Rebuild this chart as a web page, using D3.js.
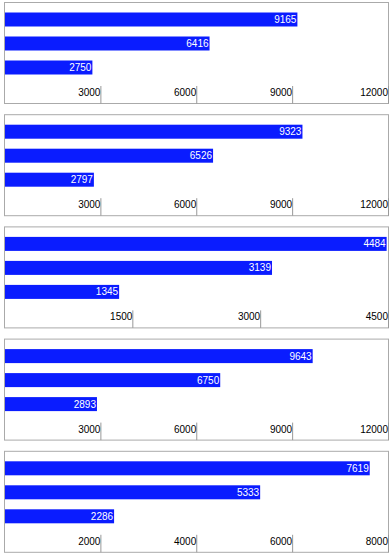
<!DOCTYPE html>
<html>
<head>
<meta charset="utf-8">
<script src="https://cdn.jsdelivr.net/npm/d3@7"></script>
<style>
  html, body { margin: 0; padding: 0; background: #fff; }
  svg { display: block; font-family: "Liberation Sans", Arial, Helvetica, sans-serif; }
</style>
</head>
<body>
<svg id="chart" width="392" height="557"></svg>
<script>
// Data: five small panels, three bars each
const categories = ["A", "B", "C"];
const panel1Values = [9165, 6416, 2750];
const panel2Values = [9323, 6526, 2797];
const panel3Values = [4484, 3139, 1345];
const panel4Values = [9643, 6750, 2893];
const panel5Values = [7619, 5333, 2286];

const panel1Ticks = [3000, 6000, 9000, 12000];
const panel2Ticks = [3000, 6000, 9000, 12000];
const panel3Ticks = [1500, 3000, 4500];
const panel4Ticks = [3000, 6000, 9000, 12000];
const panel5Ticks = [2000, 4000, 6000, 8000];

const panels = [
  { values: panel1Values, ticks: panel1Ticks, max: 12000 },
  { values: panel2Values, ticks: panel2Ticks, max: 12000 },
  { values: panel3Values, ticks: panel3Ticks, max: 4500 },
  { values: panel4Values, ticks: panel4Ticks, max: 12000 },
  { values: panel5Values, ticks: panel5Ticks, max: 8000 }
];

const svg = d3.select("#chart");
const left = 4.5, right = 388.5;
const panelStep = 112.2, panelTop0 = 2.5, panelH = 101;

panels.forEach((p, i) => {
  const top = panelTop0 + i * panelStep;
  const g = svg.append("g").attr("transform", `translate(0,${top})`);

  g.append("rect")
    .attr("x", left).attr("y", 0)
    .attr("width", right - left).attr("height", panelH)
    .attr("fill", "#fff").attr("stroke", "#aaa").attr("stroke-width", 1);

  const x = d3.scaleLinear().domain([0, p.max]).range([left, right - 0.5]);
  // step 24, band 14
  const yb = d3.scaleBand().domain(categories).range([10, 72]).paddingInner(10 / 24).paddingOuter(0);

  // axis
  const axis = d3.axisBottom(x).tickValues(p.ticks).tickSize(panelH - 83.5).tickFormat(d3.format("d"));
  const ag = g.append("g").attr("transform", `translate(0,83.5)`).call(axis);
  ag.select(".domain").remove();
  ag.selectAll(".tick line").attr("stroke", "#999");
  ag.selectAll(".tick text")
    .attr("x", -0.5).attr("y", 10).attr("dy", 0)
    .attr("text-anchor", "end")
    .attr("fill", "#000")
    .attr("font-size", 10)
    .attr("font-family", "Liberation Sans, Arial, sans-serif");

  // bars
  g.selectAll("rect.bar").data(p.values).join("rect")
    .attr("class", "bar")
    .attr("x", x(0) + 0.5)
    .attr("y", (d, j) => yb(categories[j]))
    .attr("width", d => x(d) - x(0) - 0.5)
    .attr("height", yb.bandwidth())
    .attr("fill", "#0a1cff");

  g.selectAll("text.val").data(p.values).join("text")
    .attr("class", "val")
    .attr("x", d => x(d) - 1)
    .attr("y", (d, j) => yb(categories[j]) + yb.bandwidth() / 2 + 3.5)
    .attr("text-anchor", "end")
    .attr("fill", "#fff")
    .attr("font-size", 10)
    .text(d => d);
});
</script>
</body>
</html>
